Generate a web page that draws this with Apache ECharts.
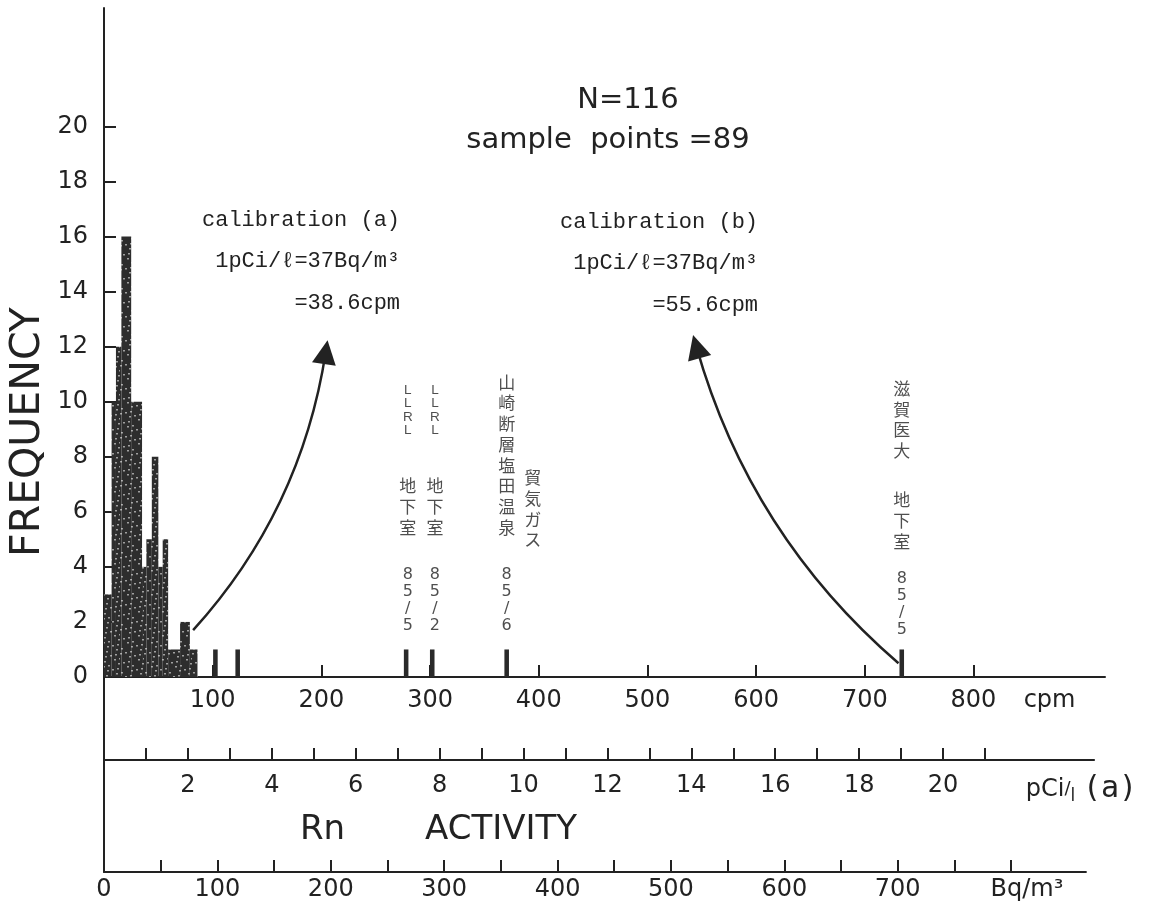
<!DOCTYPE html>
<html>
<head>
<meta charset="utf-8">
<title>Rn activity histogram</title>
<script src="https://cdn.jsdelivr.net/npm/echarts@6.0.0/dist/echarts.min.js"></script>
<style>
  html, body { margin: 0; padding: 0; background: #fff; }
  #chart { width: 1168px; height: 906px; }
</style>
</head>
<body>
<div id="chart"></div>
<script>
// histogram bins (cpm)
var binLo = [0, 7, 11, 16, 25, 35, 39, 44, 50, 54, 59, 70, 79]
var binHi = [7, 11, 16, 25, 35, 39, 44, 50, 54, 59, 70, 79, 86]
var binFreq = [3, 10, 12, 16, 10, 4, 5, 8, 4, 5, 1, 2, 1]
// isolated single counts (cpm)
var singleCpm = [102.5, 123, 278, 302, 370.5, 734]
var singleFreq = [1, 1, 1, 1, 1, 1]

// ticks and labels
var freqTicks = [2, 4, 6, 8, 10, 12, 14, 16, 18, 20]
var freqLabels = [0, 2, 4, 6, 8, 10, 12, 14, 16, 18, 20]
var cpmTicks = [100, 200, 300, 400, 500, 600, 700, 800]
var pciTicks = [1, 2, 3, 4, 5, 6, 7, 8, 9, 10, 11, 12, 13, 14, 15, 16, 17, 18, 19, 20, 21]
var pciLabels = [2, 4, 6, 8, 10, 12, 14, 16, 18, 20]
var bqTicks = [50, 100, 150, 200, 250, 300, 350, 400, 450, 500, 550, 600, 650, 700, 750, 800]
var bqLabels = [0, 100, 200, 300, 400, 500, 600, 700]

// calibration (a): 1 pCi/l = 37 Bq/m3 = 38.6 cpm
var cpmPerPci = 38.6
var bqPerPci = 37

// vertical notes over the single counts
var noteCpm = [279.5, 304.5, 370.5, 394.5, 734]
var noteFreq = [1.56, 1.56, 1.56, 4.6, 1.4]
var noteText = ['LLRL    地下室   85/5', 'LLRL    地下室   85/2', '山崎断層塩田温泉   85/6', '貿気ガス', '滋賀医大   地下室  85/5']

// arrows: [start, end] in [cpm, freq]
var arrowA = [[82, 1.7], [204, 11.8]]
var arrowB = [[731, 0.5], [545, 12.0]]

var ink = '#222'
var numFont = 'DejaVu Sans'
var pxPerCpm = 1001 / 921
var cpmMax = 921
var pciMax = 23.6
var bqMax = 866
var left = 104

// dark stippled fill like the print
function speckle() {
  var c = document.createElement('canvas')
  c.width = 24
  c.height = 24
  var g = c.getContext('2d')
  g.fillStyle = '#2d2d2d'
  g.fillRect(0, 0, 24, 24)
  g.fillStyle = '#a0a0a0'
  for (var i = 0; i < 18; i++) {
    g.fillRect((i * 11) % 24, (i * 17 + 5) % 24, 2, 1.5)
  }
  return c
}
var fillPattern = { image: speckle(), repeat: 'repeat' }

// one char per line, styled by kind
function vertical(s) {
  var out = []
  for (var ch of s) {
    if (ch === ' ') out.push('{g| }')
    else if (/[A-Z]/.test(ch)) out.push('{l|' + ch + '}')
    else if (/[0-9\/]/.test(ch)) out.push('{n|' + ch + '}')
    else out.push('{k|' + ch + '}')
  }
  return out.join('\n')
}

var histData = binLo.map(function(lo, i) { return [lo, binHi[i], binFreq[i]] })
var singleData = singleCpm.map(function(x, i) { return [x, singleFreq[i]] })
var noteData = noteCpm.map(function(x, i) { return [x, noteFreq[i]] })

var chart = echarts.init(document.getElementById('chart'))

var plainY = function(idx) {
  return {
    gridIndex: idx, type: 'value', min: 0, max: 1,
    axisLine: { show: true, lineStyle: { color: ink, width: 2 } },
    axisTick: { show: false }, axisLabel: { show: false }, splitLine: { show: false }
  }
}

var option = {
  animation: false,
  backgroundColor: '#fff',
  grid: [
    { left: left, top: 8, width: cpmMax * pxPerCpm, bottom: 229 },
    { left: left, top: 677, width: pciMax * cpmPerPci * pxPerCpm, height: 83 },
    { left: left, top: 760, width: bqMax * (cpmPerPci / bqPerPci) * pxPerCpm, height: 112 }
  ],
  xAxis: [
    {
      gridIndex: 0, type: 'value', min: 0, max: cpmMax,
      axisLine: { show: true, lineStyle: { color: ink, width: 2 } },
      axisTick: { show: true, inside: true, length: 12, customValues: cpmTicks, lineStyle: { color: ink, width: 2 } },
      axisLabel: {
        customValues: cpmTicks.concat([870]), margin: 12,
        color: ink, fontSize: 24, fontFamily: numFont,
        formatter: function(v) { return v === 870 ? 'cpm' : String(v) }
      },
      splitLine: { show: false }
    },
    {
      gridIndex: 1, type: 'value', min: 0, max: pciMax,
      axisLine: { show: true, lineStyle: { color: ink, width: 2 } },
      axisTick: { show: true, inside: true, length: 12, customValues: pciTicks, lineStyle: { color: ink, width: 2 } },
      axisLabel: {
        customValues: pciLabels.concat([23.3]), margin: 14,
        color: ink, fontSize: 24, fontFamily: numFont,
        formatter: function(v) { return v === 23.3 ? '{u|pCi}{s|/}{b|l} {a|(a)}' : String(v) },
        rich: {
          u: { fontSize: 24, fontFamily: numFont, color: ink },
          s: { fontSize: 18, fontFamily: numFont, color: ink },
          b: { fontSize: 17, fontFamily: numFont, color: ink, padding: [14, 0, 0, 0] },
          a: { fontSize: 30, fontFamily: 'DejaVu Sans Mono', color: ink }
        }
      },
      splitLine: { show: false }
    },
    {
      gridIndex: 2, type: 'value', min: 0, max: bqMax,
      axisLine: { show: true, lineStyle: { color: ink, width: 2 } },
      axisTick: { show: true, inside: true, length: 12, customValues: bqTicks, lineStyle: { color: ink, width: 2 } },
      axisLabel: {
        customValues: bqLabels.concat([814]), margin: 6,
        color: ink, fontSize: 24, fontFamily: numFont,
        formatter: function(v) { return v === 814 ? 'Bq/m³' : String(v) }
      },
      splitLine: { show: false }
    }
  ],
  yAxis: [
    {
      gridIndex: 0, type: 'value', min: 0, max: 24.3,
      axisLine: { show: true, onZero: false, lineStyle: { color: ink, width: 2 } },
      axisTick: { show: true, inside: true, length: 12, customValues: freqTicks, lineStyle: { color: ink, width: 2 } },
      axisLabel: { customValues: freqLabels, margin: 16, color: ink, fontSize: 24, fontFamily: numFont },
      splitLine: { show: false }
    },
    plainY(1),
    plainY(2)
  ],
  graphic: [
    { type: 'text', x: 628, y: 100, style: { text: 'N=116', fontSize: 29, fontFamily: numFont, fill: ink, align: 'center', verticalAlign: 'middle' } },
    { type: 'text', x: 608, y: 140, style: { text: 'sample  points =89', fontSize: 29, fontFamily: numFont, fill: ink, align: 'center', verticalAlign: 'middle' } },
    { type: 'text', x: 202, y: 199, style: { text: 'calibration (a)\n 1pCi/ℓ=37Bq/m³\n       =38.6cpm', lineHeight: 41.5, fontSize: 22, fontFamily: 'Liberation Mono', fill: ink, align: 'left', verticalAlign: 'top' } },
    { type: 'text', x: 560, y: 201, style: { text: 'calibration (b)\n 1pCi/ℓ=37Bq/m³\n       =55.6cpm', lineHeight: 41.5, fontSize: 22, fontFamily: 'Liberation Mono', fill: ink, align: 'left', verticalAlign: 'top' } },
    { type: 'text', x: 300, y: 830, style: { text: 'Rn', fontSize: 34, fontFamily: numFont, fill: ink, align: 'left', verticalAlign: 'middle' } },
    { type: 'text', x: 425, y: 830, style: { text: 'ACTIVITY', fontSize: 34, fontFamily: numFont, fill: ink, align: 'left', verticalAlign: 'middle' } },
    { type: 'text', x: 28, y: 432, rotation: Math.PI / 2, style: { text: 'FREQUENCY', fontSize: 41, fontFamily: numFont, fill: ink, align: 'center', verticalAlign: 'middle' } }
  ],
  series: [
    {
      name: 'histogram',
      type: 'custom',
      xAxisIndex: 0, yAxisIndex: 0,
      encode: { x: [0, 1], y: 2 },
      data: histData,
      renderItem: function(params, api) {
        var p0 = api.coord([api.value(0), api.value(2)])
        var p1 = api.coord([api.value(1), 0])
        return {
          type: 'rect',
          shape: { x: p0[0], y: p0[1], width: p1[0] - p0[0], height: p1[1] - p0[1] },
          style: { fill: fillPattern }
        }
      }
    },
    {
      name: 'single',
      type: 'custom',
      xAxisIndex: 0, yAxisIndex: 0,
      encode: { x: 0, y: 1 },
      data: singleData,
      renderItem: function(params, api) {
        var top = api.coord([api.value(0), api.value(1)])
        var base = api.coord([api.value(0), 0])
        var w = api.size([4.2, 0])[0]
        return {
          type: 'rect',
          shape: { x: top[0] - w / 2, y: top[1], width: w, height: base[1] - top[1] },
          style: { fill: '#2a2a2a' }
        }
      }
    },
    {
      name: 'notes',
      type: 'scatter',
      xAxisIndex: 0, yAxisIndex: 0,
      symbolSize: 0,
      silent: true,
      data: noteData,
      label: {
        show: true, position: 'top', distance: 0, align: 'center',
        formatter: function(p) { return vertical(noteText[p.dataIndex]) },
        rich: {
          l: { fontSize: 13.5, lineHeight: 13.5, fontFamily: 'Liberation Sans', color: ink },
          k: { fontSize: 17, lineHeight: 20.7, fontFamily: 'Noto Sans CJK JP', color: ink },
          n: { fontSize: 16, lineHeight: 17, fontFamily: numFont, color: ink },
          g: { fontSize: 8, lineHeight: 9.5, color: ink }
        }
      }
    },
    {
      name: 'arrows',
      type: 'lines',
      coordinateSystem: 'cartesian2d',
      xAxisIndex: 0, yAxisIndex: 0,
      silent: true,
      symbol: ['none', 'triangle'],
      symbolSize: 24,
      lineStyle: { color: ink, width: 2.5, opacity: 1 },
      data: [
        { coords: arrowA, lineStyle: { curveness: -0.15 } },
        { coords: arrowB, lineStyle: { curveness: 0.15 } }
      ]
    }
  ]
}

chart.setOption(option)
window.addEventListener('resize', function() {
  chart.resize()
})
</script>
</body>
</html>
